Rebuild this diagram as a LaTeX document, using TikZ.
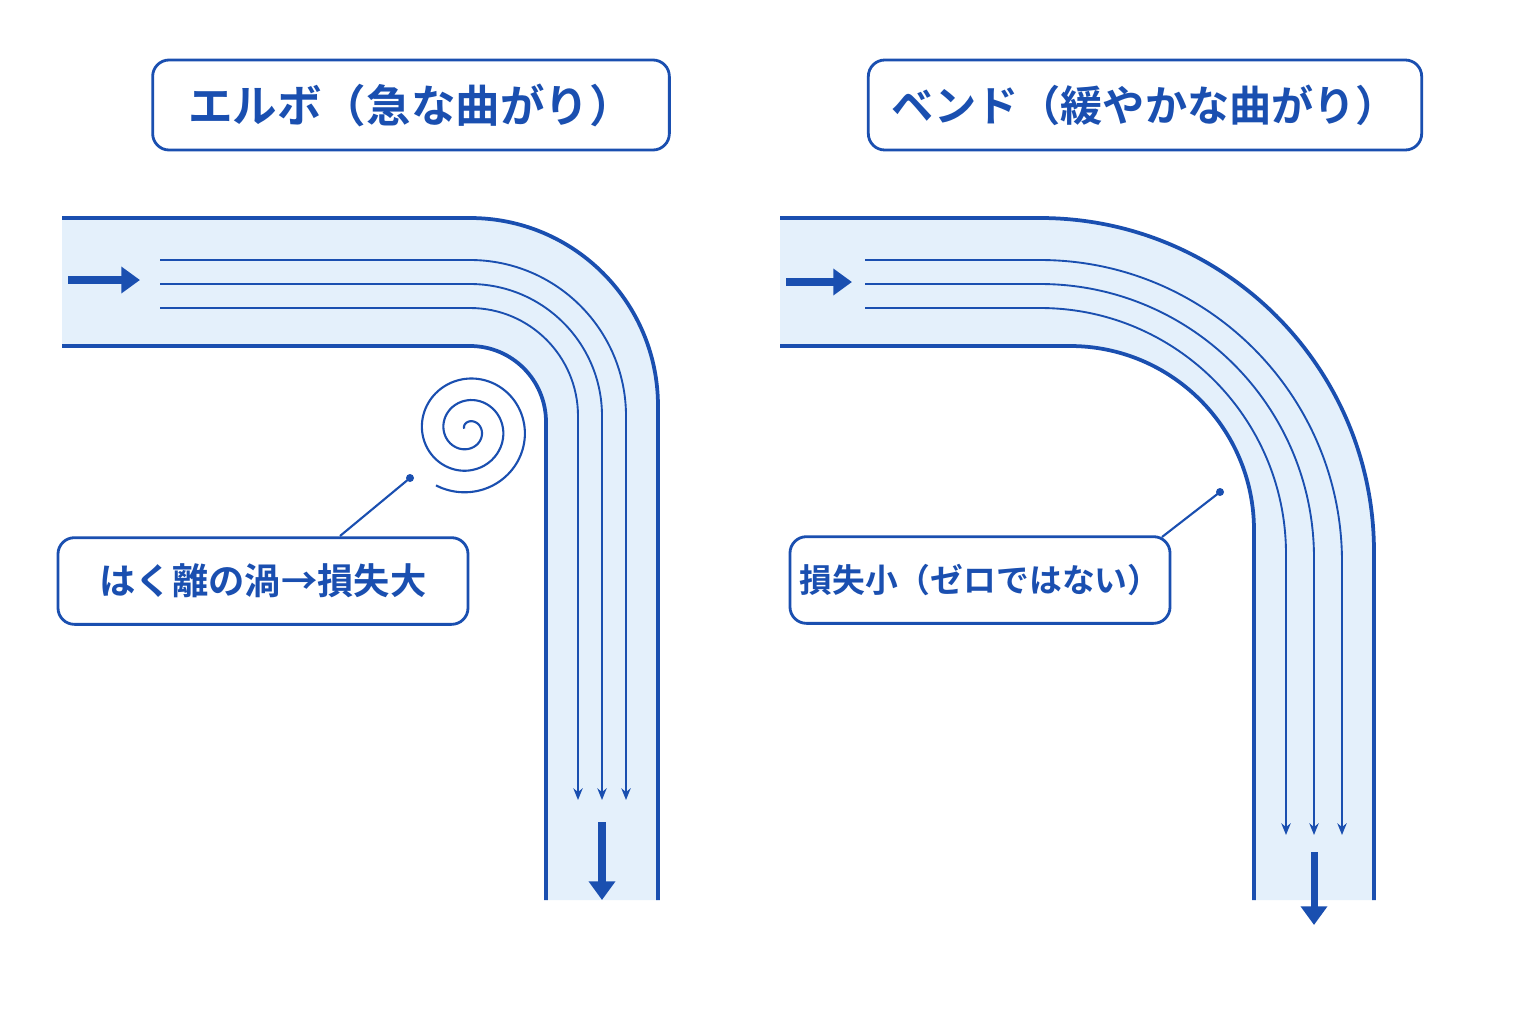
\documentclass[tikz,border=0pt]{standalone}
\usepackage{fontspec}
\newfontfamily\cjk{Noto Sans CJK JP Bold}
\usetikzlibrary{arrows.meta}
\definecolor{bl}{HTML}{1A4FB0}
\definecolor{lf}{HTML}{E4F0FB}
\tikzset{wall/.style={bl,line width=3.2pt},
 sl/.style={bl,line width=1.6pt},
 slA/.style={sl,-{Stealth[length=10pt,width=8pt]}},
 big/.style={bl,line width=6pt,-{Triangle[length=16pt,width=22pt]}},
 box/.style={draw=bl,line width=2.4pt,rounded corners=14pt,fill=white},
 txt/.style={font=\cjk,text=bl}}
\begin{document}
\begin{tikzpicture}[x=0.03cm,y=-0.03cm]
\useasboundingbox[fill=white] (0,0) rectangle (1536,1024);
% left elbow
\fill[lf] (62,218) -- (470,218) arc[start angle=-90,end angle=0,radius=188] -- (658,900) -- (546,900) -- (546,422) arc[start angle=0,end angle=-90,radius=76] -- (62,346) -- cycle;
\draw[wall] (62,218) -- (470,218) arc[start angle=-90,end angle=0,radius=188] -- (658,900);
\draw[wall] (62,346) -- (470,346) arc[start angle=-90,end angle=0,radius=76] -- (546,900);
\foreach \y/\r in {260/156,284/132,308/108}
 \draw[slA] (160,\y) -- (470,\y) arc[start angle=-90,end angle=0,radius=\r] -- (470+\r,800);
\draw[big] (68,280) -- (140,280);
\draw[big] (602,822) -- (602,900);
\draw[bl,line width=1.8pt] plot[smooth,domain=0:1000,samples=160,variable=\t] ({468+(4+\t/1000*60)*cos(\t+200)},{430+(4+\t/1000*60)*sin(\t+200)});
\coordinate (d1) at (410,478);
\fill[bl] (d1) circle (4);
\node[box,minimum width=12.3cm,minimum height=2.6cm] (lb) at (263,581) {};
\node[txt,font=\cjk\fontsize{31}{31}\selectfont] at (lb) {はく離の渦→損失大};
\draw[bl,line width=1.8pt] (d1) -- (340,536);
% titles
\node[box,minimum width=15.5cm,minimum height=2.7cm] (t1) at (411,105) {};
\node[txt,font=\cjk\fontsize{38}{38}\selectfont] at (t1) {エルボ（急な曲がり）};
\node[box,minimum width=16.6cm,minimum height=2.7cm] (t2) at (1145,105) {};
\node[txt,font=\cjk\fontsize{36}{36}\selectfont] at (t2) {ベンド（緩やかな曲がり）};
% right bend
\fill[lf] (780,218) -- (1040,218) arc[start angle=-90,end angle=0,radius=334] -- (1374,900) -- (1254,900) -- (1254,530) arc[start angle=0,end angle=-90,radius=184] -- (780,346) -- cycle;
\draw[wall] (780,218) -- (1040,218) arc[start angle=-90,end angle=0,radius=334] -- (1374,900);
\draw[wall] (780,346) -- (1070,346) arc[start angle=-90,end angle=0,radius=184] -- (1254,900);
\foreach \y/\r in {260/302,284/274,308/246}
 \draw[slA] (865,\y) -- (1040,\y) arc[start angle=-90,end angle=0,radius=\r] -- (1040+\r,835);
\draw[big] (786,282) -- (852,282);
\draw[big] (1314,852) -- (1314,925);
\coordinate (d2) at (1220,492);
\fill[bl] (d2) circle (4);
\node[box,minimum width=11.4cm,minimum height=2.6cm] (rb) at (980,580) {};
\node[txt,font=\cjk\fontsize{28}{28}\selectfont] at (rb) {損失小（ゼロではない）};
\draw[bl,line width=1.8pt] (d2) -- (1162,537);
\end{tikzpicture}
\end{document}
